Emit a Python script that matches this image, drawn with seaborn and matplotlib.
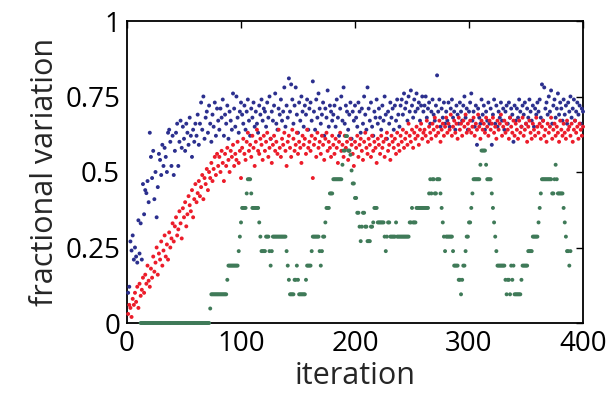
import numpy as np
import pandas as pd
import matplotlib
matplotlib.use("Agg")
import matplotlib.pyplot as plt
import seaborn as sns

# fractional variation per iteration
red = [
    .03, .06, .05, .02, .08, .06, .10, .07, .12, .05, .13, .09, .11, .15, .10, .16, .13, .19, .14, .12,
    .18, .15, .22, .17, .20, .25, .16, .23, .21, .27, .19, .24, .29, .22, .26, .21, .30, .25, .28, .33,
    .27, .32, .35, .29, .31, .37, .33, .28, .38, .35, .40, .32, .36, .42, .39, .37, .44, .35, .41, .46,
    .40, .43, .47, .42, .45, .49, .41, .48, .46, .51, .44, .50, .48, .53, .47, .51, .55, .49, .56, .52,
    .55, .50, .57, .53, .47, .56, .52, .58, .54, .50, .57, .55, .59, .52, .56, .54, .60, .53, .57, .48,
    .58, .61, .56, .54, .60, .63, .57, .59, .55, .62, .58, .52, .60, .64, .57, .56, .61, .59, .54, .62,
    .57, .60, .63, .55, .58, .61, .53, .59, .62, .57, .60, .56, .64, .58, .55, .61, .59, .63, .57, .52,
    .60, .62, .58, .55, .64, .61, .57, .59, .63, .56, .60, .58, .53, .62, .59, .61, .56, .64, .58, .60,
    .57, .62, .48, .59, .61, .55, .63, .58, .60, .56, .62, .59, .54, .61, .63, .57, .60, .58, .55, .62,
    .59, .56, .61, .58, .53, .60, .63, .57, .59, .55, .62, .58, .60, .54, .57, .61, .59, .56, .52, .60,
    .58, .62, .55, .59, .61, .57, .54, .60, .63, .58, .56, .61, .59, .55, .62, .57, .60, .58, .53, .61,
    .59, .56, .62, .58, .60, .55, .61, .63, .57, .59, .54, .62, .60, .58, .61, .56, .63, .59, .57, .62,
    .60, .64, .58, .61, .63, .59, .66, .62, .60, .64, .58, .63, .61, .65, .62, .59, .64, .66, .61, .63,
    .64, .62, .67, .60, .65, .63, .61, .66, .64, .68, .62, .65, .63, .67, .60, .64, .66, .62, .65, .68,
    .63, .66, .64, .69, .62, .65, .67, .63, .66, .61, .68, .64, .66, .62, .67, .65, .69, .63, .66, .64,
    .67, .63, .65, .68, .62, .66, .64, .69, .65, .61, .67, .64, .66, .63, .68, .65, .62, .67, .64, .66,
    .68, .63, .65, .61, .67, .64, .66, .69, .62, .65, .67, .63, .66, .64, .61, .68, .65, .63, .67, .62,
    .66, .64, .61, .67, .63, .65, .68, .62, .64, .66, .60, .65, .67, .63, .61, .66, .64, .62, .68, .65,
    .63, .66, .61, .65, .67, .62, .64, .60, .66, .63, .65, .68, .61, .64, .66, .62, .65, .63, .60, .67,
    .64, .62, .66, .63, .61, .67, .64, .65, .62, .66, .60, .64, .67, .63, .65, .61, .66, .64, .62, .65,
]

blue = [
    .10, .12, .27, .24, .29, .21, .25, .22, .20, .34, .23, .33, .21, .46, .36, .44, .43, .47, .40, .63,
    .55, .48, .57, .41, .50, .35, .45, .56, .54, .49, .59, .52, .58, .55, .50, .63, .64, .60, .52, .62,
    .49, .57, .63, .66, .52, .60, .67, .58, .65, .61, .57, .66, .63, .59, .68, .62, .55, .64, .60, .66,
    .62, .69, .59, .66, .73, .64, .75, .61, .68, .70, .63, .72, .66, .60, .69, .65, .73, .62, .71, .67,
    .64, .71, .68, .74, .62, .69, .66, .72, .61, .70, .67, .64, .76, .71, .65, .75, .68, .63, .70, .73,
    .69, .66, .72, .64, .70, .74, .67, .62, .71, .68, .73, .65, .70, .66, .63, .72, .69, .74, .67, .71,
    .70, .65, .73, .68, .75, .61, .70, .67, .72, .76, .66, .64, .71, .69, .74, .67, .70, .78, .65, .72,
    .68, .81, .70, .79, .74, .66, .72, .78, .69, .63, .73, .67, .75, .70, .65, .72, .69, .74, .64, .71,
    .73, .67, .80, .70, .64, .74, .68, .76, .71, .66, .69, .73, .62, .71, .68, .77, .65, .72, .70, .67,
    .69, .72, .65, .74, .68, .62, .71, .75, .67, .78, .66, .72, .70, .64, .69, .73, .61, .70, .67, .72,
    .68, .65, .73, .70, .63, .71, .66, .75, .69, .64, .78, .71, .67, .73, .65, .62, .70, .68, .74, .66,
    .71, .68, .64, .72, .67, .75, .69, .61, .70, .66, .73, .68, .71, .64, .72, .67, .74, .69, .65, .72,
    .74, .69, .76, .71, .73, .67, .75, .70, .77, .72, .68, .74, .70, .76, .71, .73, .67, .72, .75, .70,
    .72, .75, .68, .71, .73, .66, .70, .74, .69, .67, .72, .82, .70, .74, .65, .71, .68, .73, .66, .70,
    .67, .73, .65, .71, .74, .68, .70, .64, .72, .69, .66, .73, .70, .67, .72, .75, .68, .71, .64, .70,
    .73, .76, .67, .70, .65, .72, .59, .71, .68, .66, .74, .69, .72, .64, .70, .67, .73, .66, .71, .59,
    .69, .74, .66, .72, .65, .70, .68, .73, .67, .71, .64, .70, .72, .66, .73, .68, .71, .69, .60, .72,
    .67, .71, .68, .74, .70, .65, .72, .69, .73, .66, .71, .68, .74, .70, .67, .72, .65, .71, .69, .73,
    .70, .74, .68, .79, .67, .78, .71, .73, .69, .75, .70, .77, .66, .72, .74, .68, .71, .76, .69, .73,
    .71, .67, .74, .69, .72, .66, .73, .70, .75, .68, .71, .74, .67, .70, .73, .69, .72, .66, .71, .70,
]

# green series: (value, number of consecutive iterations it is held), from iteration 12
green_start = 12
green_runs = [
    (0, 61), (.048, 1), (.095, 14), (.143, 1), (.190, 9), (.238, 1), (.286, 1), (.333, 1), (.381, 4),
    (.429, 1), (.476, 3), (.429, 1), (.381, 6), (.333, 1), (.286, 1), (.238, 4), (.286, 3), (.238, 1),
    (.190, 1), (.238, 1), (.286, 12), (.238, 1), (.190, 1), (.143, 1), (.095, 4), (.143, 2), (.190, 1),
    (.143, 1), (.095, 6), (.143, 1), (.190, 4), (.238, 1), (.286, 6), (.238, 1), (.190, 1), (.238, 1),
    (.286, 2), (.333, 1), (.381, 3), (.429, 3), (.476, 8), (.524, 1), (.571, 2), (.619, 2), (.571, 2),
    (.557, 1), (.505, 1), (.462, 2), (.414, 2), (.365, 2), (.319, 1), (.271, 1), (.319, 1), (.365, 2),
    (.319, 2), (.271, 3), (.319, 2), (.333, 1), (.381, 3), (.333, 6), (.286, 1), (.238, 1), (.286, 1),
    (.333, 2), (.286, 5), (.333, 1), (.286, 11), (.333, 2), (.381, 1), (.333, 3), (.381, 11), (.429, 1),
    (.476, 1), (.429, 1), (.476, 2), (.429, 2), (.476, 3), (.429, 1), (.381, 1), (.333, 1), (.286, 1),
    (.238, 1), (.286, 6), (.238, 1), (.190, 4), (.143, 2), (.095, 1), (.143, 1), (.190, 2), (.238, 1),
    (.286, 2), (.333, 2), (.381, 1), (.429, 1), (.476, 6), (.524, 1), (.571, 4), (.524, 1), (.476, 4),
    (.429, 1), (.381, 1), (.333, 1), (.286, 1), (.238, 1), (.190, 7), (.143, 1), (.095, 1), (.143, 2),
    (.095, 1), (.190, 1), (.143, 1), (.190, 1), (.095, 6), (.143, 1), (.190, 5), (.238, 4), (.286, 5),
    (.333, 1), (.381, 1), (.429, 1), (.476, 9), (.429, 2), (.476, 1), (.524, 1), (.476, 1), (.429, 5),
    (.381, 1), (.333, 1), (.286, 1), (.238, 2), (.190, 1), (.238, 1),
]

x_ticks = [0, 100, 200, 300, 400]
y_ticks = [0, 0.25, 0.5, 0.75, 1]
y_tick_labels = ["0", "0.25", "0.5", "0.75", "1"]

green_values = np.repeat([v for v, n in green_runs], [n for v, n in green_runs])

df = pd.concat([
    pd.DataFrame({"iteration": np.arange(1, len(blue) + 1), "value": blue, "series": "blue"}),
    pd.DataFrame({"iteration": np.arange(1, len(red) + 1), "value": red, "series": "red"}),
    pd.DataFrame({"iteration": np.arange(green_start, green_start + len(green_values)),
                  "value": green_values, "series": "green"}),
], ignore_index=True)

sns.set_style("white")
plt.rcParams["font.family"] = ["Open Sans", "DejaVu Sans"]

fig = plt.figure(figsize=(6.13, 4.12), dpi=100)
ax = fig.add_axes([127 / 613, 1 - 323 / 412, 456 / 613, 302 / 412])

palette = {"blue": "#2B2F8E", "red": "#EC1C2A", "green": "#3F7A58"}
sns.scatterplot(data=df, x="iteration", y="value", hue="series", palette=palette,
                s=8, linewidth=0, legend=False, ax=ax, clip_on=False, zorder=3)

ax.set_xlim(0, 400)
ax.set_ylim(0, 1)
ax.set_xticks(x_ticks)
ax.set_yticks(y_ticks)
ax.set_yticklabels(y_tick_labels)
ax.tick_params(direction="in", length=5, width=1, top=True, right=True,
               labelsize=20, pad=5, colors="black")
for sp in ax.spines.values():
    sp.set_visible(True)
    sp.set_linewidth(1.3)
    sp.set_color("black")
ax.set_xlabel("iteration", fontsize=22, labelpad=2)
ax.set_ylabel("fractional variation", fontsize=22, labelpad=4)

fig.savefig("out.png", dpi=100)
